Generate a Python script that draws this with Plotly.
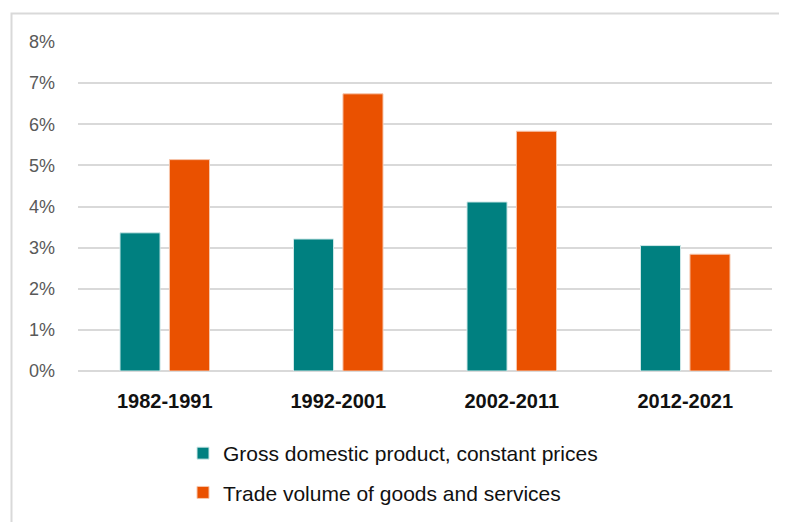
import plotly.graph_objects as go

categories = ["1982-1991", "1992-2001", "2002-2011", "2012-2021"]
gdp_values = [3.36, 3.21, 4.11, 3.05]
trade_values = [5.14, 6.74, 5.83, 2.84]
series_names = ["Gross domestic product, constant prices", "Trade volume of goods and services"]
y_tick_vals = [0, 1, 2, 3, 4, 5, 6, 7, 8]
y_tick_text = ["0%", "1%", "2%", "3%", "4%", "5%", "6%", "7%", "8%"]

OFF = 8  # page body margin
W, H = 787 - OFF, 522 - OFF
L, R, T, B = 78 - OFF, 15, 42 - OFF, 151
pw, ph = W - L - R, H - T - B

def px_x(p):  # screen pixel -> paper
    return (p - OFF - L) / pw

def px_y(p):
    return (H - B - (p - OFF)) / ph

FONT = "Liberation Sans Narrow, Arial Narrow, Liberation Sans, Arial, sans-serif"

fig = go.Figure()
fig.add_trace(go.Bar(x=categories, y=gdp_values, name=series_names[0], legendgroup="g1",
                     marker=dict(color="#008080", line=dict(color="#cfe8e8", width=1))))
fig.add_trace(go.Bar(x=categories, y=trade_values, name=series_names[1], legendgroup="g2",
                     marker=dict(color="#EA5100", line=dict(color="#f6c7ad", width=1))))

fig.update_layout(
    width=W, height=H,
    margin=dict(l=L, r=R, t=T, b=B, autoexpand=False),
    paper_bgcolor="white", plot_bgcolor="white",
    barmode="group", bargap=0.43, bargroupgap=0.19,
    showlegend=True,
    legend=dict(orientation="v", x=px_x(183), y=px_y(433), xanchor="left", yanchor="top",
                font=dict(family=FONT, size=21, color="#111111"),
                tracegroupgap=9, itemwidth=30, bgcolor="rgba(0,0,0,0)"),
    xaxis=dict(showgrid=False, showline=False, ticks="", automargin=False,
               ticklabelstandoff=16,
               tickfont=dict(family=FONT, size=20, color="#111111", weight="bold")),
    yaxis=dict(range=[0, 8], tickvals=y_tick_vals, ticktext=y_tick_text,
               showgrid=True, gridcolor="#d9d9d9", gridwidth=2,
               zeroline=True, zerolinecolor="#d9d9d9", zerolinewidth=2,
               showline=False, ticks="", ticklabelstandoff=22, automargin=False,
               tickfont=dict(family=FONT, size=18, color="#595959")),
    shapes=[dict(type="rect", xref="paper", yref="paper",
                 x0=px_x(11.5), x1=px_x(800), y0=px_y(540), y1=px_y(13.5),
                 line=dict(color="#d9d9d9", width=2), fillcolor="rgba(0,0,0,0)", layer="below")],
)

fig.write_html("out.html")
